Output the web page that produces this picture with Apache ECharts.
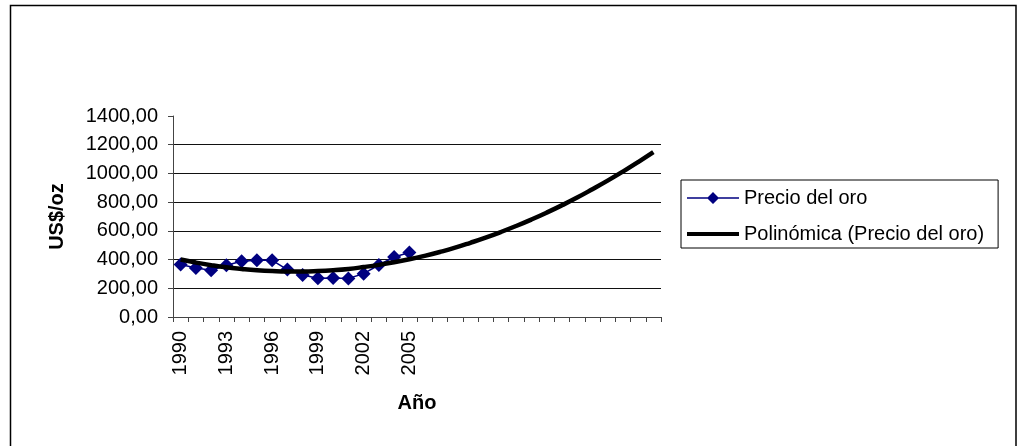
<!DOCTYPE html>
<html>
<head>
<meta charset="utf-8">
<script src="https://cdn.jsdelivr.net/npm/echarts@6/dist/echarts.min.js"></script>
<style>
  html, body { margin: 0; padding: 0; background: #fff; }
  #chart { width: 1018px; height: 446px; }
</style>
</head>
<body>
<div id="chart"></div>
<script>
// Year labels: observed years, then blank slots for the forward trend
const years = ['1990','1991','1992','1993','1994','1995','1996','1997',
               '1998','1999','2000','2001','2002','2003','2004','2005'];
const forecastSlots = ['','','','','','','','','','','','','','','',''];
const categories = years.concat(forecastSlots);

// Gold price, US$/oz
const goldPrice = [365, 341, 325, 360, 388, 395, 395, 330,
                   292, 270, 272, 268, 302, 362, 418, 449];

// Second-order polynomial trend, extended 16 periods forward
const polyTrend = [400, 379, 361, 346, 335, 326, 320, 317,
                   317, 320, 326, 335, 348, 363, 381, 402,
                   426, 453, 483, 517, 553, 592, 634, 679,
                   727, 778, 832, 890, 950, 1013, 1079, 1148];

const yTicks = { min: 0, max: 1400, step: 200 };

const FONT = 'Liberation Sans';
const FS = 20;

// Legend keys: thin line with a diamond, and a thick plain line
const ICON_MARKER_LINE = 'path://M0,5.3 H52 V6.7 H0 Z M26,0 L32,6 L26,12 L20,6 Z';
const ICON_THICK_LINE = 'path://M0,4 H52 V8 H0 Z M0,0 H0.01 V12 H0 Z';

const chart = echarts.init(document.getElementById('chart'), null, { renderer: 'canvas' });

chart.setOption({
  animation: false,
  backgroundColor: '#fff',
  textStyle: { fontFamily: FONT, color: '#000' },
  graphic: [{
    type: 'rect',
    shape: { x: 10.5, y: 5.5, width: 1005.5, height: 470 },
    style: { fill: 'none', stroke: '#000', lineWidth: 1.5 },
    silent: true,
    z: 100
  }],
  grid: { left: 173, right: 357, top: 116, bottom: 129, containLabel: false },
  legend: {
    orient: 'vertical',
    left: 681,
    top: 180,
    padding: [8, 14, 4, 6],
    itemGap: 16,
    itemWidth: 52,
    itemHeight: 12,
    symbolKeepAspect: true,
    backgroundColor: '#fff',
    borderColor: '#000',
    borderWidth: 1,
    textStyle: { fontFamily: FONT, fontSize: FS, color: '#000', padding: [0, 0, 0, 0] },
    data: [
      { name: 'Precio del oro', icon: ICON_MARKER_LINE, itemStyle: { color: '#000080' } },
      { name: 'Polinómica (Precio del oro)', icon: ICON_THICK_LINE, itemStyle: { color: '#000' } }
    ]
  },
  xAxis: {
    type: 'category',
    data: categories,
    boundaryGap: true,
    name: 'Año',
    nameLocation: 'middle',
    nameGap: 76,
    nameTextStyle: { fontFamily: FONT, fontSize: FS, fontWeight: 'bold', color: '#000' },
    axisLine: { lineStyle: { color: '#444', width: 1 } },
    axisTick: { show: true, interval: 0, length: 5, lineStyle: { color: '#444' } },
    axisLabel: {
      interval: 2,
      rotate: 90,
      margin: 14,
      fontFamily: FONT,
      fontSize: FS,
      color: '#000'
    },
    splitLine: { show: false }
  },
  yAxis: {
    type: 'value',
    min: yTicks.min,
    max: yTicks.max,
    interval: yTicks.step,
    name: 'US$/oz',
    nameLocation: 'middle',
    nameGap: 106,
    nameRotate: 90,
    nameTextStyle: { fontFamily: FONT, fontSize: FS, fontWeight: 'bold', color: '#000' },
    axisLine: { show: true, lineStyle: { color: '#444', width: 1 } },
    axisTick: { show: true, length: 5, lineStyle: { color: '#444' } },
    axisLabel: {
      margin: 15,
      fontFamily: FONT,
      fontSize: FS,
      color: '#000',
      formatter: v => v.toFixed(2).replace('.', ',')
    },
    splitLine: { show: true, showMaxLine: false, lineStyle: { color: '#111', width: 1 } }
  },
  series: [
    {
      name: 'Precio del oro',
      type: 'line',
      data: goldPrice,
      symbol: 'diamond',
      symbolSize: 14,
      showAllSymbol: true,
      lineStyle: { color: '#000080', width: 1.5 },
      itemStyle: { color: '#000080' },
      z: 2
    },
    {
      name: 'Polinómica (Precio del oro)',
      type: 'line',
      data: polyTrend,
      symbol: 'none',
      smooth: true,
      lineStyle: { color: '#000', width: 4.5 },
      itemStyle: { color: '#000' },
      z: 3
    }
  ]
});
</script>
</body>
</html>
